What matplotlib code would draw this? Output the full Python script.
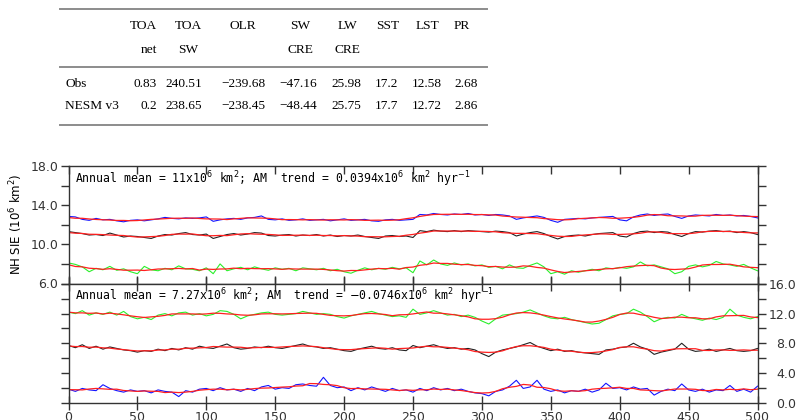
import numpy as np
import matplotlib
matplotlib.use("Agg")
import matplotlib.pyplot as plt

# table: global-mean climatology, Obs vs NESM v3
col_top = ["TOA", "TOA", "OLR", "SW", "LW", "SST", "LST", "PR"]
col_bot = ["net", "SW", "", "CRE", "CRE", "", "", ""]
row_names = ["Obs", "NESM v3"]
obs_vals = [0.83, 240.51, -239.68, -47.16, 25.98, 17.2, 12.58, 2.68]
nesm_vals = [0.2, 238.65, -238.45, -48.44, 25.75, 17.7, 12.72, 2.86]

# sea-ice extent time series, 5-yr samples (10^6 km^2)
years = np.arange(0, 501, 5)
nh_blue = [12.85, 12.8, 12.55, 12.45, 12.65, 12.5, 12.55, 12.4, 12.3, 12.45,
           12.5, 12.4, 12.5, 12.6, 12.75, 12.65, 12.6, 12.7, 12.65, 12.7,
           12.8, 12.35, 12.5, 12.6, 12.65, 12.55, 12.7, 12.75, 12.9, 12.55,
           12.5, 12.6, 12.45, 12.5, 12.6, 12.45, 12.5, 12.55, 12.4, 12.5,
           12.6, 12.45, 12.5, 12.55, 12.4, 12.35, 12.5, 12.55, 12.45, 12.5,
           12.55, 13.05, 13.0, 13.15, 13.05, 13.0, 13.1, 13.05, 13.15, 13.0,
           13.05, 12.95, 13.05, 13.0, 12.9, 12.55, 12.7, 12.8, 12.9, 12.75,
           12.45, 12.25, 12.55, 12.6, 12.65, 12.6, 12.7, 12.75, 12.8, 12.85,
           12.5, 12.4, 12.8, 13.0, 13.1, 12.95, 13.05, 13.1, 12.85, 12.65,
           12.9, 13.0, 12.95, 12.9, 13.05, 12.95, 13.0, 12.9, 12.95, 12.85,
           12.7]
nh_black = [11.3, 11.2, 11.1, 10.95, 11.0, 10.9, 11.15, 10.95, 10.75, 10.85,
            10.8, 10.7, 10.6, 10.85, 11.0, 10.95, 11.1, 11.2, 11.0, 10.95,
            11.05, 10.6, 10.8, 11.0, 11.1, 10.95, 11.05, 11.2, 11.15, 10.9,
            10.85, 10.95, 11.0, 10.85, 10.95, 10.9, 11.0, 10.85, 10.95, 10.8,
            10.9, 10.85, 10.95, 10.8, 10.7, 10.6, 10.85, 10.9, 10.8, 10.85,
            10.7, 11.4, 11.3, 11.45, 11.35, 11.3, 11.4, 11.3, 11.4, 11.35,
            11.3, 11.25, 11.35, 11.3, 11.2, 10.85, 11.05, 11.2, 11.3, 11.1,
            10.8, 10.55, 10.8, 10.9, 10.95, 10.85, 11.0, 11.1, 11.15, 11.2,
            10.85, 10.75, 11.1, 11.3, 11.35, 11.2, 11.3, 11.25, 11.0, 10.8,
            11.1, 11.3, 11.25, 11.35, 11.4, 11.3, 11.35, 11.2, 11.3, 11.2,
            11.0]
nh_green = [8.1, 7.95, 7.7, 7.2, 7.55, 7.4, 7.75, 7.35, 7.5, 7.2,
            7.0, 7.75, 7.4, 7.3, 7.55, 7.4, 7.8, 7.5, 7.45, 7.3,
            7.6, 7.0, 8.0, 7.3, 7.5, 7.65, 7.4, 7.7, 7.5, 7.35,
            7.6, 7.45, 7.55, 7.3, 7.6, 7.5, 7.4, 7.55, 7.3, 7.45,
            7.2, 7.05, 7.35, 7.6, 7.4, 7.55, 7.45, 7.65, 7.5, 7.6,
            7.1, 8.3, 7.9, 8.4, 8.0, 7.85, 8.1, 7.9, 8.0, 7.8,
            7.9, 7.65, 7.75, 7.5, 7.9, 7.6, 7.55, 7.85, 8.1, 7.7,
            7.0, 7.2, 6.95, 7.3, 7.15, 7.3, 7.45, 7.3, 7.6, 7.5,
            7.65, 7.55, 7.7, 8.2, 7.8, 7.9, 7.7, 7.5, 7.0, 7.2,
            7.75, 7.9, 7.7, 7.85, 8.25, 8.0, 7.9, 7.75, 7.95, 7.6,
            7.3]
sh_green = [12.2, 12.0, 12.4, 11.8, 12.1, 11.9, 12.2, 11.8, 12.3, 11.6,
            11.3, 11.5, 11.2, 11.8, 12.0, 11.7, 12.1, 12.2, 11.8, 12.0,
            11.7, 11.9, 12.4, 12.3, 11.9, 11.3, 11.7, 11.9, 12.1, 12.2,
            11.9, 11.8, 11.9, 12.0, 12.3, 12.1, 11.9, 12.0, 11.9, 11.6,
            11.4, 11.7, 11.9, 12.1, 12.3, 12.0, 11.8, 11.6, 11.7, 11.5,
            12.6, 11.9, 12.1, 12.4, 12.1, 11.8, 11.9, 11.6, 11.8, 11.5,
            11.0, 10.6, 11.3, 11.8, 11.9, 12.0, 12.2, 12.5, 12.1, 11.7,
            11.4, 11.3, 11.5, 11.2, 11.0, 10.8, 10.6, 10.7, 11.2, 11.7,
            11.9, 12.0, 12.6, 12.2, 11.6, 10.9, 11.3, 11.5, 11.4, 11.9,
            11.5, 11.3, 11.1, 11.4, 11.2, 11.5, 12.6, 11.8, 11.5, 11.3,
            11.6]
sh_black = [7.7, 7.4, 7.8, 7.3, 7.6, 7.2, 7.5, 7.3, 7.1, 7.0,
            6.8, 7.0, 6.9, 7.2, 7.0, 7.3, 7.1, 7.4, 7.2, 7.6,
            7.4, 7.3, 7.6, 7.9, 7.4, 7.2, 7.3, 7.5, 7.4, 7.6,
            7.4, 7.3, 7.5, 7.7, 7.9, 7.6, 7.5, 7.3, 7.4, 7.2,
            7.0, 6.9, 7.2, 7.4, 7.6, 7.3, 7.2, 7.4, 7.1, 7.0,
            7.7, 7.4, 7.6, 7.8, 7.5, 7.3, 7.4, 7.2, 7.3, 7.1,
            6.6, 6.2, 6.8, 7.1, 7.3, 7.5, 7.8, 8.1, 7.6, 7.3,
            7.0, 7.2, 6.9, 7.0, 6.8, 6.7, 6.6, 6.5, 7.1, 7.2,
            7.4, 7.5, 8.0, 7.5, 7.2, 6.5, 6.8, 7.0, 7.2, 8.0,
            7.2, 6.9, 7.0, 7.2, 6.9, 7.1, 7.3, 7.0, 6.9, 7.0,
            7.3]
sh_blue = [1.8, 1.5, 1.9, 1.7, 1.6, 2.4, 1.9, 1.6, 1.4, 1.7,
           1.5, 1.6, 1.3, 1.7, 1.5, 1.4, 0.8, 1.6, 1.4, 1.8,
           1.9, 1.6, 2.0, 1.7, 1.8, 1.5, 1.9, 1.6, 2.1, 2.3,
           1.8, 2.0, 1.9, 2.4, 2.5, 2.3, 2.2, 3.4, 2.3, 2.0,
           2.1, 1.6, 2.0, 1.7, 2.1, 1.8, 1.5, 1.9, 1.6, 1.7,
           1.4, 1.9, 1.6, 2.0, 1.7, 1.9, 1.6, 1.8, 1.5, 1.3,
           1.2, 0.9, 1.5, 1.7, 2.2, 3.0, 1.9, 2.1, 3.0, 1.8,
           1.5, 1.7, 1.3, 1.6, 1.5, 1.8, 1.4, 1.7, 2.6, 1.9,
           2.0, 1.7, 2.1, 1.8, 1.9, 1.0, 1.5, 1.8, 1.6, 2.5,
           1.7, 1.5, 1.8, 1.4, 1.7, 1.6, 2.3, 1.5, 1.8, 1.4,
           2.2]

nh_text = r"Annual mean = 11x10$^6$ km$^2$; AM  trend = 0.0394x10$^6$ km$^2$ hyr$^{-1}$"
sh_text = r"Annual mean = 7.27x10$^6$ km$^2$; AM  trend = $-$0.0746x10$^6$ km$^2$ hyr$^{-1}$"

BLUE, BLACK, GREEN, RED = "#1414ff", "#222222", "#2bef2b", "#ff1f1f"


def smooth(v, w=5):
    v = np.asarray(v, dtype=float)
    k = np.ones(w)
    return np.convolve(v, k, "same") / np.convolve(np.ones_like(v), k, "same")


def fmt(v):
    return str(v).replace("-", "\u2212")


fig = plt.figure(figsize=(7.99, 4.2), dpi=100)
W, H = 799.0, 420.0

# ---- table ----
serif = "Liberation Serif"
tfs = 9.6
line_kw = dict(color="#8c8c8c", lw=1.4, transform=fig.transFigure)
for yy in (9, 67, 125):
    fig.add_artist(plt.Line2D([60 / W, 487 / W], [1 - yy / H] * 2, **line_kw))
head_x = [157, 188, 243, 300, 347, 388, 428, 462]
head_ha = ["right", "center", "center", "center", "center", "center", "center", "center"]
val_x = [157, 202, 265, 317, 361, 398, 442, 478]
for hx, ha, t1, t2 in zip(head_x, head_ha, col_top, col_bot):
    fig.text(hx / W, 1 - 26 / H, t1, ha=ha, va="center", family=serif, fontsize=tfs)
    if t2:
        fig.text(hx / W, 1 - 50 / H, t2, ha=ha, va="center", family=serif, fontsize=tfs)
for ry, name, vals in zip((84, 106), row_names, (obs_vals, nesm_vals)):
    fig.text(65 / W, 1 - ry / H, name, ha="left", va="center", family=serif, fontsize=tfs)
    for vx, v in zip(val_x, vals):
        fig.text(vx / W, 1 - ry / H, fmt(v), ha="right", va="center", family=serif, fontsize=tfs)

# ---- time series panels ----
left, width = 68.5 / W, 689.0 / W
ax1 = fig.add_axes([left, 1 - 283.5 / H, width, 117.5 / H])
ax2 = fig.add_axes([left, 1 - 402.5 / H, width, 118.5 / H])

panels = ((ax1, ((nh_blue, BLUE), (nh_black, BLACK), (nh_green, GREEN))),
          (ax2, ((sh_green, GREEN), (sh_black, BLACK), (sh_blue, BLUE))))
for ax, series in panels:
    for s, col in series:
        ax.plot(years, s, color=col, lw=0.8)
        ax.plot(years, smooth(s), color=RED, lw=0.9)
    ax.set_xlim(0, 500)
    ax.set_xticks(np.arange(0, 501, 50))
    for sp in ax.spines.values():
        sp.set_linewidth(1.0)
        sp.set_color("#333333")

ax1.set_ylim(6, 18)
ax1.set_yticks(np.arange(6, 19, 2))
ax1.set_yticklabels(["%.1f" % v if v % 4 == 2 else "" for v in np.arange(6, 19, 2)])
ax1.tick_params(axis="y", which="both", direction="out", length=6, width=1, left=True, right=True,
                labelleft=True, labelright=False, labelsize=9, pad=1.5, colors="#333333")
ax1.tick_params(axis="x", direction="in", length=6, width=1, top=True, bottom=True,
                labelbottom=False, colors="#333333")
ax1.text(0.01, 0.885, nh_text, transform=ax1.transAxes, family="DejaVu Sans Mono",
         fontsize=8.3, va="center", ha="left")
fig.text(16 / W, 1 - 224 / H, r"NH SIE (10$^6$ km$^2$)", rotation=90, ha="center", va="center",
         fontsize=8.5)

ax2.set_ylim(0, 16)
ax2.set_yticks(np.arange(0, 17, 2))
ax2.set_yticklabels(["%.1f" % v if v % 4 == 0 else "" for v in np.arange(0, 17, 2)])
ax2.tick_params(axis="y", direction="out", length=6, width=1, left=True, right=True,
                labelleft=False, labelright=True, labelsize=9, pad=22, colors="#333333")
for lbl in ax2.get_yticklabels():
    lbl.set_ha("right")
ax2.tick_params(axis="x", direction="inout", length=10, width=1, top=True, bottom=True,
                labelbottom=True, labelsize=9, pad=1, colors="#333333")
ax2.text(0.01, 0.9, sh_text, transform=ax2.transAxes, family="DejaVu Sans Mono",
         fontsize=8.3, va="center", ha="left")

fig.savefig("out.png", dpi=100)
